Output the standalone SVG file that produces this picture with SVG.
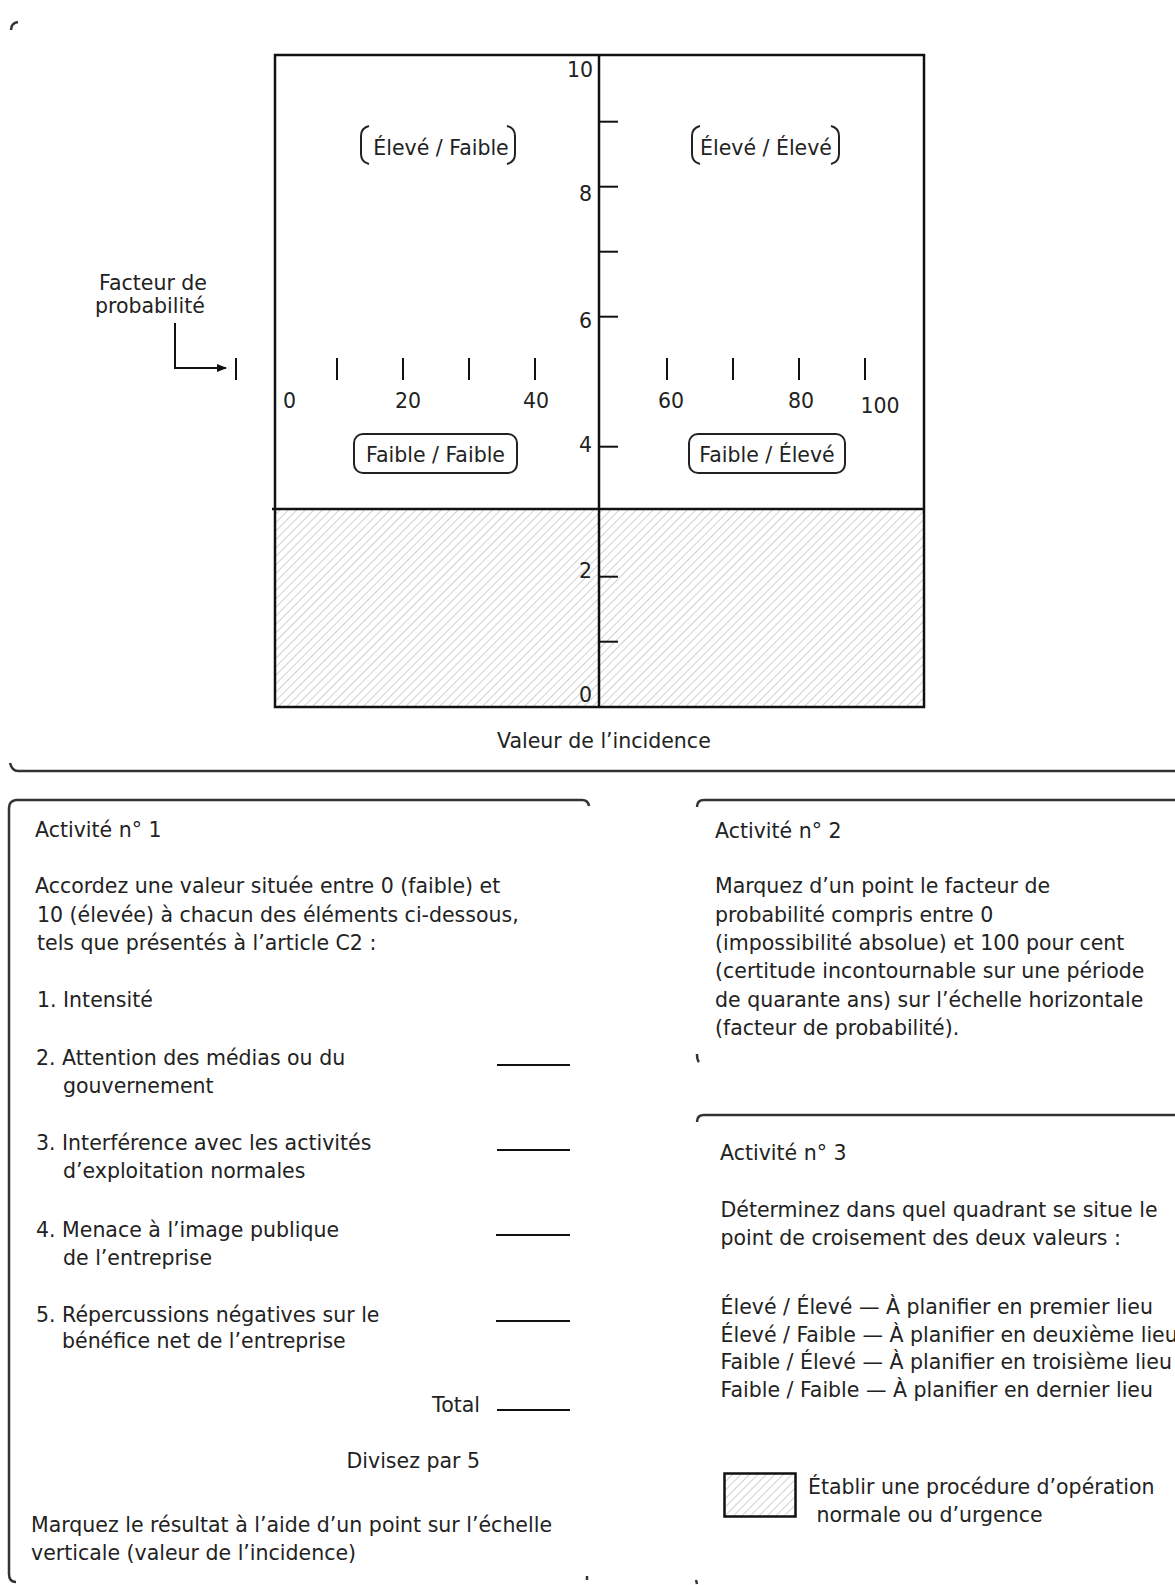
<svg xmlns="http://www.w3.org/2000/svg" width="1175" height="1585" viewBox="0 0 1175 1585">
<style>
text{font-family:"DejaVu Sans","Liberation Sans",sans-serif;font-size:20.5px;fill:#222}
.ln{stroke:#111;stroke-width:2.5;fill:none}
.tk{stroke:#111;stroke-width:2;fill:none}
.fr{stroke:#333;stroke-width:2.5;fill:none}
.br{stroke:#222;stroke-width:2;fill:none}
.mid{text-anchor:middle}
.end{text-anchor:end}
</style>
<defs>
<pattern id="hatch" patternUnits="userSpaceOnUse" width="6" height="6" patternTransform="rotate(45)">
<line x1="0" y1="0" x2="0" y2="6" stroke="#a8a8a8" stroke-width="1.1"/>
</pattern>
<marker id="ah" markerWidth="10" markerHeight="8" refX="9" refY="4" orient="auto" markerUnits="userSpaceOnUse">
<path d="M0,0 L10,4 L0,8 Z" fill="#111"/>
</marker>
</defs>
<rect width="1175" height="1585" fill="#fff"/>

<g id="top-frame">
<path class="fr" d="M11 30 Q11 23 18 22"/>
<path class="fr" d="M10 763 Q12 771 18 771 L1175 771"/>
</g>

<g id="chart">
<rect x="275" y="509" width="649" height="198" fill="url(#hatch)"/>
<rect class="ln" x="275" y="55" width="649" height="652"/>
<line class="ln" x1="272" y1="509" x2="924" y2="509"/>
<line class="ln" x1="599" y1="55" x2="599" y2="707"/>
<g class="tk">
<line x1="599" y1="121.7" x2="618" y2="121.7"/>
<line x1="599" y1="186.7" x2="618" y2="186.7"/>
<line x1="599" y1="251.7" x2="618" y2="251.7"/>
<line x1="599" y1="316.7" x2="618" y2="316.7"/>
<line x1="599" y1="446.7" x2="618" y2="446.7"/>
<line x1="599" y1="576.7" x2="618" y2="576.7"/>
<line x1="599" y1="641.7" x2="618" y2="641.7"/>
<line x1="236" y1="358" x2="236" y2="380"/>
<line x1="337" y1="358" x2="337" y2="380"/>
<line x1="403" y1="358" x2="403" y2="380"/>
<line x1="469" y1="358" x2="469" y2="380"/>
<line x1="535" y1="358" x2="535" y2="380"/>
<line x1="667" y1="358" x2="667" y2="380"/>
<line x1="733" y1="358" x2="733" y2="380"/>
<line x1="799" y1="358" x2="799" y2="380"/>
<line x1="865" y1="358" x2="865" y2="380"/>
</g>
<text class="end" x="593" y="77">10</text>
<text class="end" x="592" y="201">8</text>
<text class="end" x="592" y="328">6</text>
<text class="end" x="592" y="452">4</text>
<text class="end" x="592" y="578">2</text>
<text class="end" x="592" y="702">0</text>
<text x="283" y="408">0</text>
<text class="mid" x="408" y="408">20</text>
<text class="mid" x="536" y="408">40</text>
<text class="mid" x="671" y="408">60</text>
<text class="mid" x="801" y="408">80</text>
<text class="mid" x="880" y="413">100</text>
<text x="497" y="748">Valeur de l’incidence</text>
</g>

<g id="prob-label">
<text x="99" y="290">Facteur de</text>
<text x="95" y="313">probabilité</text>
</g>

<g id="connectors">
<path class="tk" d="M175 323 L175 368 L226 368" marker-end="url(#ah)"/>
</g>

<g id="q-eleve-faible">
<path class="br" d="M369 126 Q361 128 361 136 L361 154 Q361 162 369 164"/>
<path class="br" d="M507 126 Q515 128 515 136 L515 154 Q515 162 507 164"/>
<text class="mid" x="441" y="155">Élevé / Faible</text>
</g>
<g id="q-eleve-eleve">
<path class="br" d="M700 126 Q692 128 692 136 L692 154 Q692 162 700 164"/>
<path class="br" d="M831 126 Q839 128 839 136 L839 154 Q839 162 831 164"/>
<text class="mid" x="766" y="155">Élevé / Élevé</text>
</g>
<g id="q-faible-faible">
<rect class="br" x="354" y="434" width="163" height="39" rx="9"/>
<text class="mid" x="435.5" y="462">Faible / Faible</text>
</g>
<g id="q-faible-eleve">
<rect class="br" x="689" y="434" width="156" height="39" rx="9"/>
<text class="mid" x="767" y="462">Faible / Élevé</text>
</g>

<g id="activite1">
<path class="fr" d="M589 806 Q588 800 582 800 L16 800 Q9 801 9 808 L9 1574 Q9 1582 16 1582"/>
<path class="fr" d="M587 1576 L587 1580"/>
<text x="35" y="837">Activité n° 1</text>
<text x="35" y="893">Accordez une valeur située entre 0 (faible) et</text>
<text x="37" y="921.5">10 (élevée) à chacun des éléments ci-dessous,</text>
<text x="37" y="950">tels que présentés à l’article C2 :</text>
<text x="37" y="1006.5">1. Intensité</text>
<text x="36" y="1065">2. Attention des médias ou du</text>
<text x="63" y="1093">gouvernement</text>
<text x="36" y="1150">3. Interférence avec les activités</text>
<text x="63" y="1178">d’exploitation normales</text>
<text x="36" y="1236.5">4. Menace à l’image publique</text>
<text x="63" y="1265">de l’entreprise</text>
<text x="36" y="1321.5">5. Répercussions négatives sur le</text>
<text x="62" y="1348">bénéfice net de l’entreprise</text>
<text class="end" x="480" y="1411.5">Total</text>
<text class="end" x="480" y="1468">Divisez par 5</text>
<text x="31" y="1531.5">Marquez le résultat à l’aide d’un point sur l’échelle</text>
<text x="31" y="1560">verticale (valeur de l’incidence)</text>
<g class="tk">
<line x1="497" y1="1065" x2="570" y2="1065"/>
<line x1="497" y1="1150" x2="570" y2="1150"/>
<line x1="496" y1="1235" x2="570" y2="1235"/>
<line x1="496" y1="1321" x2="570" y2="1321"/>
<line x1="497" y1="1410" x2="570" y2="1410"/>
</g>
</g>

<g id="activite2">
<path class="fr" d="M697 807 Q697 800 704 800 L1175 800"/>
<path class="fr" d="M697 1054 Q697 1060 699 1062"/>
<text x="715" y="838">Activité n° 2</text>
<text x="715" y="893">Marquez d’un point le facteur de</text>
<text x="715" y="921.5">probabilité compris entre 0</text>
<text x="715" y="950">(impossibilité absolue) et 100 pour cent</text>
<text x="715" y="978">(certitude incontournable sur une période</text>
<text x="715" y="1006.5">de quarante ans) sur l’échelle horizontale</text>
<text x="715" y="1035">(facteur de probabilité).</text>
</g>

<g id="activite3">
<path class="fr" d="M697 1122 Q697 1115 704 1115 L1175 1115"/>
<path class="fr" d="M696 1580 L697 1584"/>
<text x="720" y="1160">Activité n° 3</text>
<text x="720.5" y="1216.5">Déterminez dans quel quadrant se situe le</text>
<text x="720.5" y="1245">point de croisement des deux valeurs :</text>
<text x="720.5" y="1314">Élevé / Élevé — À planifier en premier lieu</text>
<text x="720.5" y="1341.5">Élevé / Faible — À planifier en deuxième lieu</text>
<text x="720.5" y="1368.5">Faible / Élevé — À planifier en troisième lieu</text>
<text x="720.5" y="1397">Faible / Faible — À planifier en dernier lieu</text>
</g>

<g id="legende">
<rect x="724.5" y="1473.5" width="71" height="43" fill="url(#hatch)" stroke="#111" stroke-width="2.5"/>
<text x="808" y="1493.5">Établir une procédure d’opération</text>
<text x="816.5" y="1521.5">normale ou d’urgence</text>
</g>
</svg>
